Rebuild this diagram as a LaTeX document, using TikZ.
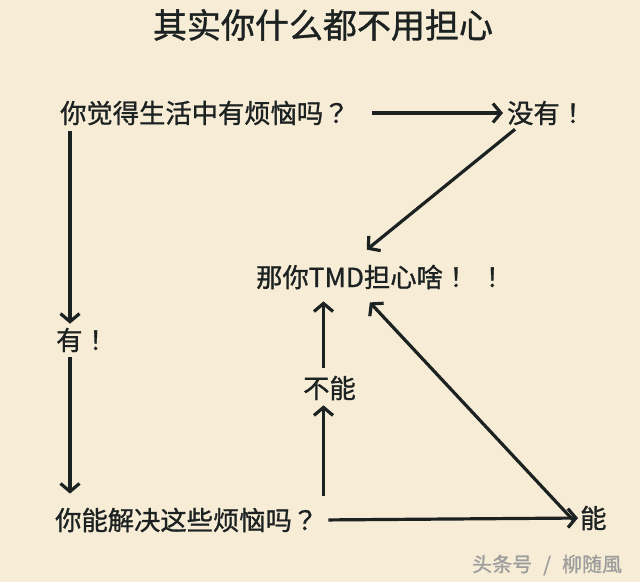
\documentclass[tikz,border=0pt]{standalone}
\usepackage{fontspec}
\newfontfamily\cjk[FakeBold=1.1]{Noto Sans CJK SC}
\newfontfamily\pun[FakeBold=1.1]{Noto Sans CJK TC}
\usetikzlibrary{arrows.meta}
\definecolor{paper}{RGB}{247,236,213}
\definecolor{ink}{RGB}{28,34,34}

\begin{document}
\begin{tikzpicture}[x=1pt,y=-1pt,
  arr/.style={-{Straight Barb[length=8pt,width=19pt]},line width=3.2pt,draw=ink},
  lbl/.style={text=ink,inner sep=0pt,anchor=west,font=\cjk\fontsize{26.3}{30}\selectfont}]
  \fill[paper] (0,0) rectangle (640,582);
  \useasboundingbox (0,0) rectangle (640,582);

  \node[lbl,anchor=center,font=\cjk\fontsize{34}{38}\selectfont] (title) at (323,25) {其实你什么都不用担心};
  \node[lbl] (q1) at (60,113) {你觉得生活中有烦恼吗{\pun ？}};
  \node[lbl] (no) at (507,113) {没有{\pun ！}};
  \node[lbl] (mid) at (256,277) {那你TMD担心啥{\pun ！\hspace{10pt}！}};
  \node[lbl] (yes) at (56,340) {有{\pun ！}};
  \node[lbl] (q2) at (55,520) {你能解决这些烦恼吗{\pun ？}};
  \node[lbl] (cannot) at (303,388) {不能};
  \node[lbl] (can) at (580,518) {能};
  \node[lbl,text=black!38,font=\cjk\fontsize{20}{24}\selectfont] (mark) at (472,565) {头条号\hspace{11pt}/\hspace{11pt}柳随風};

  \draw[arr,shorten <=22pt,shorten >=4pt] (q1.east) -- (no.west);
  \draw[arr] ([xshift=8pt,yshift=-4pt]no.south west) -- ([xshift=-14pt,yshift=15pt]mid.north);
  \draw[arr,shorten <=6pt,shorten >=4pt] ([xshift=10pt]q1.south west) -- ([xshift=10pt]q1.south west |- yes.north);
  \draw[arr,shorten <=5pt,shorten >=14pt] ([xshift=14pt]yes.south west) -- ([xshift=14pt]yes.south west |- q2.north);
  \draw[arr,shorten <=10pt,shorten >=2pt] (q2.east) -- (can.west);
  \draw[arr,shorten <=12pt,shorten >=5pt] ([xshift=-6pt]cannot.south |- q2.north) -- ([xshift=-6pt]cannot.south);
  \draw[arr,shorten <=8pt,shorten >=12pt] ([xshift=-6pt]cannot.north) -- ([xshift=-6pt]cannot.north |- mid.south);
  \draw[arr] ([xshift=-7pt,yshift=-2pt]can.west) -- ([xshift=-11pt,yshift=-13pt]mid.south);
\end{tikzpicture}
\end{document}
